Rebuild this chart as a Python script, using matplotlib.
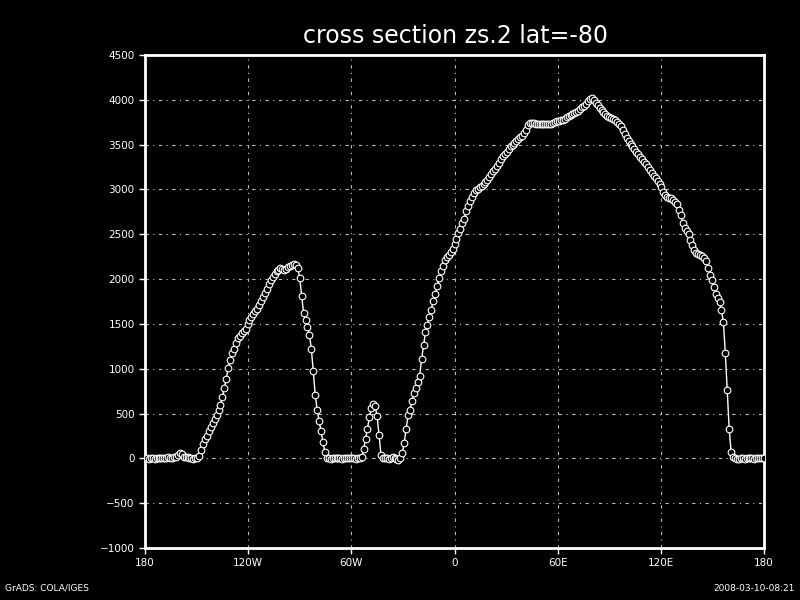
import matplotlib
matplotlib.use("Agg")
import matplotlib.pyplot as plt
import numpy as np

# longitudes of the model grid (1.125 deg)
lons = -180 + 1.125 * np.arange(321)

# surface height (m), one value per grid point
zs = [
    0, 0, -5, 0, 0, -5, 0, 5, 0, 0,
    0, 5, 10, 5, 0, 10, 20, 40, 55, 45,
    20, 10, 15, 5, 0, -5, 0, 0, 30, 90,
    160, 215, 250, 300, 350, 390, 435, 480, 540, 600,
    680, 790, 880, 1010, 1100, 1170, 1220, 1290, 1340, 1370,
    1395, 1420, 1440, 1500, 1545, 1580, 1610, 1640, 1670, 1710,
    1755, 1800, 1845, 1885, 1945, 1985, 2020, 2060, 2085, 2105,
    2120, 2110, 2100, 2110, 2130, 2150, 2160, 2165, 2160, 2120,
    2010, 1810, 1620, 1540, 1470, 1380, 1220, 970, 710, 540,
    420, 300, 180, 70, 5, 0, -5, 0, 0, 5,
    0, 0, -5, 0, 0, 0, 5, 0, 0, -5,
    0, 0, 10, 100, 215, 330, 460, 560, 610, 580,
    470, 260, 40, 0, 5, 0, -5, 0, 10, 0,
    -10, -15, 0, 60, 170, 330, 480, 545, 640, 725,
    790, 850, 920, 1110, 1260, 1410, 1490, 1580, 1660, 1760,
    1830, 1925, 2010, 2090, 2150, 2210, 2250, 2270, 2300, 2335,
    2390, 2450, 2515, 2560, 2630, 2670, 2765, 2820, 2875, 2920,
    2960, 2990, 3010, 3025, 3035, 3060, 3080, 3110, 3140, 3175,
    3205, 3230, 3260, 3300, 3345, 3370, 3390, 3415, 3450, 3480,
    3500, 3515, 3540, 3560, 3580, 3600, 3630, 3665, 3720, 3740,
    3745, 3740, 3735, 3730, 3735, 3730, 3725, 3730, 3735, 3730,
    3735, 3740, 3750, 3760, 3765, 3770, 3775, 3790, 3805, 3820,
    3830, 3845, 3855, 3865, 3880, 3900, 3915, 3930, 3955, 3985,
    4005, 4015, 4000, 3970, 3940, 3910, 3890, 3865, 3845, 3825,
    3805, 3795, 3785, 3775, 3755, 3730, 3705, 3660, 3615, 3575,
    3545, 3510, 3480, 3450, 3420, 3390, 3365, 3335, 3305, 3280,
    3250, 3220, 3185, 3155, 3125, 3095, 3060, 3030, 2975, 2935,
    2920, 2910, 2900, 2885, 2865, 2840, 2775, 2710, 2630, 2570,
    2540, 2505, 2440, 2380, 2330, 2290, 2280, 2270, 2260, 2240,
    2200, 2120, 2050, 1990, 1910, 1835, 1790, 1745, 1650, 1520,
    1180, 760, 330, 70, 10, 0, -10, -5, 0, 0,
    -10, 0, 5, 0, 0, -5, 0, 0, 5, 0,
    0,
]

xticks = [-180, -120, -60, 0, 60, 120, 180]
xlabels = ["180", "120W", "60W", "0", "60E", "120E", "180"]
yticks = list(range(-1000, 4501, 500))

fig = plt.figure(figsize=(8, 6), dpi=100, facecolor="black")
ax = fig.add_axes([0.18125, 0.08667, 0.77375, 0.82167], facecolor="black")

ax.plot(lons, zs, color="white", lw=1.0, marker="o", ms=4.8,
        mfc="black", mec="white", mew=0.8, zorder=3)

ax.set_xlim(-180, 180)
ax.set_ylim(-1000, 4500)
ax.set_xticks(xticks)
ax.set_xticklabels(xlabels)
ax.set_yticks(yticks)

ax.grid(True, color="#bcbcbc", lw=0.8, ls=(0, (3, 4, 1, 4)))
for s in ax.spines.values():
    s.set_color("white")
    s.set_linewidth(2)
ax.tick_params(colors="white", labelsize=7.5, direction="out", length=4,
               width=1)

fig.text(0.57, 0.94, "cross section zs.2 lat=-80", color="white",
         fontsize=17, ha="center", va="center")
fig.text(0.006, 0.012, "GrADS: COLA/IGES", color="white", fontsize=6.5,
         ha="left", va="bottom")
fig.text(0.994, 0.012, "2008-03-10-08:21", color="white", fontsize=6.5,
         ha="right", va="bottom")

fig.savefig("out.png", dpi=100, facecolor="black")
